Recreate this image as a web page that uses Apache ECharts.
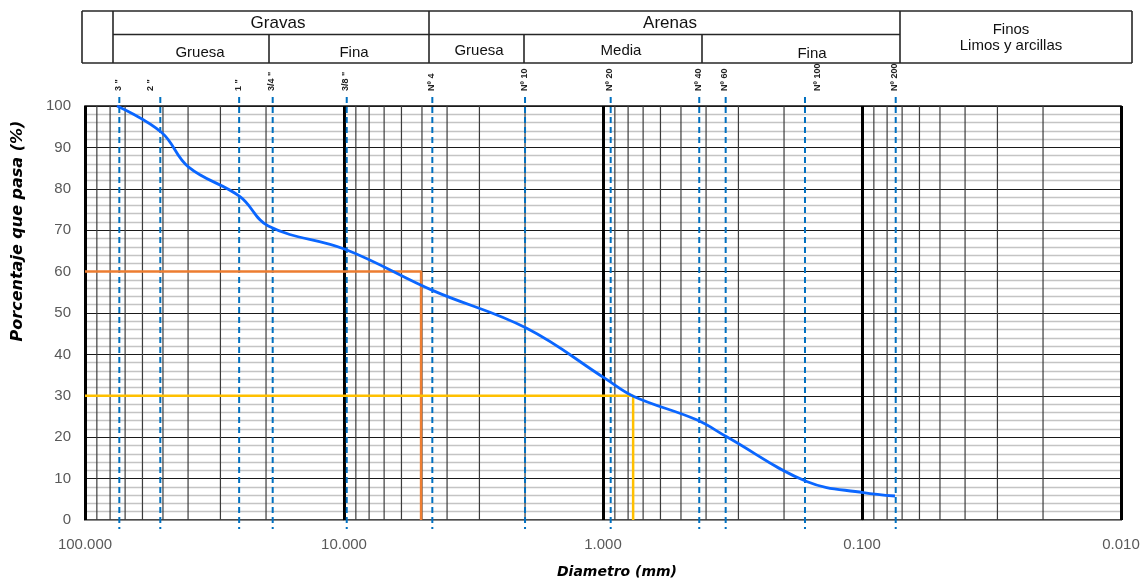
<!DOCTYPE html>
<html><head><meta charset="utf-8">
<script src="https://cdn.jsdelivr.net/npm/echarts@6/dist/echarts.min.js"></script>
<style>html,body{margin:0;padding:0;background:#fff}#c{width:1148px;height:583px}</style>
</head><body><div id="c"></div>
<script>
// Grain size curve (diameter mm, % passing)
const diameters = [75.2, 50.6, 39.9, 25.2, 19.6, 9.91, 4.53, 1.97, 0.982, 0.764, 0.435, 0.333, 0.1635, 0.0989, 0.0746];
const percentPassing = [100, 93.6, 85.3, 78.1, 71.0, 65.4, 55.4, 46.3, 34.2, 29.9, 24.2, 20.1, 9.3, 6.6, 5.8];
// Sieves
const sieveLabels = ['3 "', '2 "', '1 "', '3/4 "', '3/8 "', 'Nº 4', 'Nº 10', 'Nº 20', 'Nº 40', 'Nº 60', 'Nº 100', 'Nº 200'];
const sieveSizes = [73.7, 51.2, 25.4, 18.85, 9.76, 4.56, 2.0, 0.934, 0.425, 0.336, 0.166, 0.0741];
// Characteristic diameters
const d60 = 5.04, p60 = 60;
const d30 = 0.765, p30 = 30;
// Axes
const xMin = 0.01, xMax = 100;
const yTicks = [0, 10, 20, 30, 40, 50, 60, 70, 80, 90, 100];
const decades = [0.01, 0.1, 1, 10];
const minorMultipliers = [2, 3, 4, 5, 6, 7, 8, 9];

const minorGrid = [];
decades.forEach(d => minorMultipliers.forEach(k => minorGrid.push(+(k * d).toPrecision(3))));
const labelShift = {'2 "': -9, 'Nº 100': 14};

const chart = echarts.init(document.getElementById('c'), null, {renderer: 'canvas'});

const hdrLine = {stroke: '#262626', lineWidth: 1.6};
function L(x1, y1, x2, y2) { return {type: 'line', shape: {x1, y1, x2, y2}, style: hdrLine, silent: true}; }
function T(text, x, y, size) {
  return {type: 'text', x, y, style: {text, fontSize: size, fontFamily: 'Liberation Sans, Arial, sans-serif', fill: '#111', align: 'center', verticalAlign: 'middle'}, silent: true};
}

const option = {
  animation: false,
  backgroundColor: '#fff',
  grid: {left: 85, right: 27, top: 106, bottom: 63, show: true, borderColor: '#111', borderWidth: 1.5, backgroundColor: 'transparent'},
  xAxis: {
    type: 'log', logBase: 10, min: xMin, max: xMax, inverse: true,
    axisLine: {show: true, lineStyle: {color: '#8a8a8a', width: 1}},
    axisTick: {show: false},
    axisLabel: {color: '#595959', fontSize: 15, margin: 17, fontFamily: 'Liberation Sans, Arial, sans-serif',
      formatter: v => Number(v).toFixed(3)},
    splitLine: {show: true, lineStyle: {color: '#000', width: 3}}
  },
  yAxis: {
    type: 'value', min: 0, max: 100, interval: 10,
    axisLine: {show: false}, axisTick: {show: false},
    axisLabel: {color: '#595959', fontSize: 15, margin: 14, fontFamily: 'Liberation Sans, Arial, sans-serif'},
    splitLine: {show: true, lineStyle: {color: '#1a1a1a', width: 1}},
    minorTick: {show: false, splitNumber: 5},
    minorSplitLine: {show: true, lineStyle: {color: '#c4c4c4', width: 1.3}}
  },
  graphic: [
    L(82, 11, 1132, 11), L(82, 63, 1132, 63), L(113, 34.5, 900, 34.5),
    L(82, 11, 82, 63), L(113, 11, 113, 63), L(429, 11, 429, 63), L(900, 11, 900, 63), L(1132, 11, 1132, 63),
    L(269, 34.5, 269, 63), L(524, 34.5, 524, 63), L(702, 34.5, 702, 63),
    T('Gravas', 278, 23, 17), T('Arenas', 670, 23, 17),
    T('Gruesa', 200, 52.5, 15), T('Fina', 354, 52.5, 15),
    T('Gruesa', 479, 50.5, 15), T('Media', 621, 50.5, 15), T('Fina', 812, 53.5, 15),
    T('Finos', 1011, 30, 15), T('Limos y arcillas', 1011, 46, 15),
    {type: 'text', x: 18, y: 231, rotation: Math.PI / 2,
      style: {text: 'Porcentaje que pasa (%)', fontSize: 16, fontWeight: 'bold', fontStyle: 'italic', fontFamily: 'DejaVu Sans, sans-serif', fill: '#000', align: 'center', verticalAlign: 'middle'}},
    {type: 'text', x: 617, y: 572,
      style: {text: 'Diametro (mm)', fontSize: 14, fontWeight: 'bold', fontStyle: 'italic', fontFamily: 'DejaVu Sans, sans-serif', fill: '#000', align: 'center', verticalAlign: 'middle'}}
  ],
  series: [
    {
      type: 'custom', z: 1, silent: true,
      data: minorGrid.map(v => [v]),
      renderItem: (params, api) => {
        const a = api.coord([api.value(0), 0]);
        const b = api.coord([api.value(0), 100]);
        return {type: 'line', shape: {x1: a[0], y1: a[1], x2: b[0], y2: b[1]}, style: {stroke: '#3c3c3c', lineWidth: 1.2}};
      }
    },
    {
      type: 'custom', z: 3, silent: true, clip: false,
      data: sieveSizes.map((s, i) => [s, i]),
      renderItem: (params, api) => {
        const i = api.value(1);
        const top = api.coord([api.value(0), 102.2]);
        const bot = api.coord([api.value(0), -2.2]);
        const lbl = sieveLabels[i];
        return {type: 'group', children: [
          {type: 'line', shape: {x1: top[0], y1: top[1], x2: bot[0], y2: bot[1]}, style: {stroke: '#0070C0', lineWidth: 2, lineDash: [6, 4]}},
          {type: 'text', x: top[0] - 1 + (labelShift[lbl] || 0), y: top[1] - 6, rotation: Math.PI / 2,
            style: {text: lbl, fontSize: 9, fontWeight: 'bold', fontFamily: 'Liberation Sans, Arial, sans-serif', fill: '#222', align: 'left', verticalAlign: 'middle'}}
        ]};
      }
    },
    {
      type: 'line', z: 4, symbol: 'none', silent: true,
      data: [[xMax, p60], [d60, p60], [d60, 0]],
      lineStyle: {color: '#ED7D31', width: 2.5}
    },
    {
      type: 'line', z: 4, symbol: 'none', silent: true,
      data: [[xMax, p30], [d30, p30], [d30, 0]],
      lineStyle: {color: '#FFC000', width: 2.5}
    },
    {
      type: 'line', z: 5, symbol: 'none', silent: true, smooth: 0.4,
      data: diameters.map((d, i) => [d, percentPassing[i]]),
      lineStyle: {color: '#0a66ff', width: 2.8}
    }
  ]
};
chart.setOption(option);
</script>
</body></html>
